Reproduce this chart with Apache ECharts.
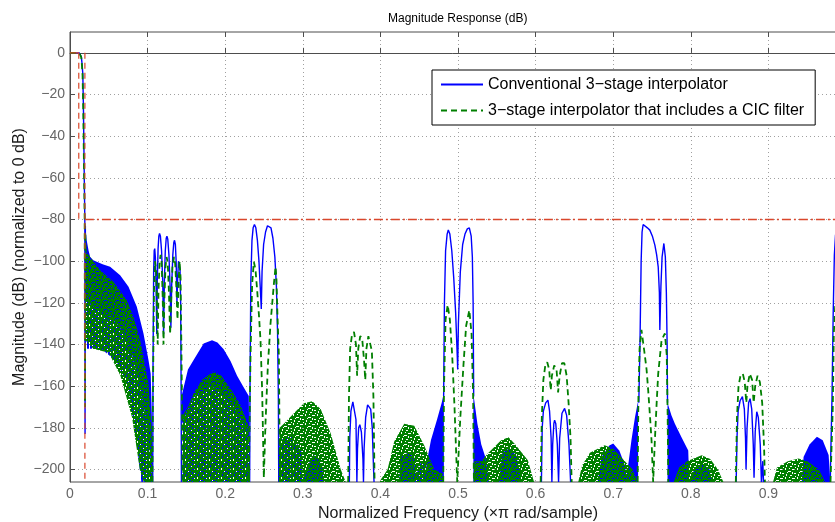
<!DOCTYPE html>
<html>
<head>
<meta charset="utf-8">
<script src="https://cdn.jsdelivr.net/npm/echarts@6/dist/echarts.min.js"></script>
<style>
  html, body { margin: 0; padding: 0; background: #fff; }
  #chart { width: 835px; height: 522px; }
</style>
</head>
<body>
<div id="chart"></div>
<script>
// Axis ranges and tick values
const X_MIN = 0, X_MAX = 1, X_STEP = 0.1;
const Y_MIN = -206, Y_MAX = 10;
const yTicks = [0, -20, -40, -60, -80, -100, -120, -140, -160, -180, -200];

const NAME_CONV = 'Conventional 3\u2212stage interpolator';
const NAME_CIC = '3\u2212stage interpolator that includes a CIC filter';

// Specification mask
const maskPassTop = [[0, 0], [0.0113, 0]];
const maskPassEdge = [[0.0113, 0], [0.0113, -80]];
const maskStopEdge = [[0.0192, 0], [0.0192, -206]];
const maskStopLevel = [[0.0192, -80], [1, -80]];

// ---- Conventional design: traced curve pieces ----
const blueTransition = [[0, 0], [0.0120, 0], [0.0135, -0.5], [0.0147, -2], [0.0157, -6], [0.0165, -10], [0.0173, -26], [0.0178, -42], [0.0186, -66], [0.0191, -80], [0.0194, -183], [0.0198, -83]];
const blueLobe1 = [[0.1066, -206], [0.1070, -150], [0.1078, -105], [0.1085, -95], [0.1092, -94], [0.1100, -98], [0.1110, -112], [0.1118, -135], [0.1125, -110], [0.1135, -94], [0.1145, -88], [0.1154, -86.7], [0.1165, -88], [0.1180, -95], [0.1195, -110], [0.1206, -135], [0.1216, -110], [0.1228, -95], [0.1240, -89], [0.1249, -88], [0.1260, -89.5], [0.1275, -97], [0.1290, -112], [0.1300, -132], [0.1310, -112], [0.1325, -97], [0.1338, -91], [0.1347, -90], [0.1358, -92], [0.1368, -100], [0.1378, -120], [0.1388, -108], [0.1398, -100], [0.1408, -99.5], [0.1418, -104], [0.1426, -120], [0.1432, -160], [0.1436, -206]];
const blueLobe2 = [[0.2315, -206], [0.2320, -160], [0.2330, -110], [0.2345, -90], [0.2360, -84], [0.2377, -82.4], [0.2395, -84], [0.2415, -90], [0.2435, -100], [0.2455, -115], [0.2465, -123], [0.2475, -105], [0.2495, -92], [0.2520, -86], [0.2545, -83], [0.2565, -82.4], [0.2590, -84], [0.2615, -89], [0.2640, -98], [0.2660, -112], [0.2675, -135], [0.2685, -165], [0.2690, -206]];
const blueLobe3 = [[0.3600, -206], [0.3605, -185], [0.3620, -172], [0.3645, -167.5], [0.3665, -168], [0.3685, -176], [0.3697, -206], [0.3705, -190], [0.3720, -180], [0.3735, -178.5], [0.3755, -182], [0.3775, -195], [0.3782, -206], [0.3790, -190], [0.3810, -175], [0.3835, -169], [0.3855, -168.3], [0.3875, -171], [0.3895, -180], [0.3912, -200], [0.3918, -206]];
const blueLobe4 = [[0.4815, -165], [0.4825, -120], [0.4840, -95], [0.4860, -87], [0.4875, -85], [0.4895, -87], [0.4920, -95], [0.4945, -108], [0.4970, -125], [0.4990, -145], [0.4996, -152], [0.5005, -130], [0.5030, -105], [0.5060, -92], [0.5090, -87], [0.5120, -84.5], [0.5146, -84], [0.5170, -88], [0.5185, -98], [0.5195, -120], [0.5202, -165]];
const blueLobe5 = [[0.6075, -206], [0.6085, -180], [0.6100, -172], [0.6130, -168], [0.6159, -166.7], [0.6180, -172], [0.6200, -185], [0.6210, -206], [0.6220, -188], [0.6235, -178], [0.6245, -176.3], [0.6260, -178], [0.6280, -188], [0.6296, -206], [0.6310, -185], [0.6340, -173], [0.6374, -170.7], [0.6400, -174], [0.6430, -188], [0.6451, -206]];
const blueLobe6 = [[0.7330, -168], [0.7345, -140], [0.7360, -100], [0.7372, -86], [0.7386, -82.4], [0.7410, -83], [0.7440, -84], [0.7472, -85.1], [0.7505, -88], [0.7537, -92.3], [0.7560, -97], [0.7580, -102.7], [0.7595, -115], [0.7601, -133], [0.7615, -112], [0.7630, -98], [0.7653, -91.5], [0.7672, -98], [0.7685, -115], [0.7695, -140], [0.7700, -168]];
const blueLobe7 = [[0.8585, -206], [0.8595, -185], [0.8610, -172], [0.8635, -167], [0.8665, -165], [0.8690, -171], [0.8705, -185], [0.8712, -200], [0.8725, -180], [0.8745, -168], [0.8764, -166], [0.8785, -171], [0.8805, -188], [0.8815, -204], [0.8830, -182], [0.8850, -172.3], [0.8870, -175], [0.8895, -188], [0.8910, -206], [0.8928, -196], [0.8937, -206]];
const blueEnd = [[0.9798, -206], [0.9800, -199], [0.9820, -165], [0.9835, -125], [0.9850, -97], [0.9865, -87.5], [0.9890, -84]];

// Conventional design: envelopes of densely rippling stopband regions
const blueDenseTop1 = [[0.0198, -83], [0.0215, -90], [0.0240, -95], [0.0260, -98], [0.0300, -99.5], [0.0345, -100.3], [0.0420, -101.5], [0.0517, -102.7], [0.0646, -106.7], [0.0754, -112.3], [0.0861, -121.9], [0.0947, -134.7], [0.1012, -147.5], [0.1040, -154], [0.1055, -175], [0.1064, -206]];
const blueDenseMid1 = [[0.0198, -118], [0.0300, -122], [0.0500, -126], [0.0650, -132], [0.0800, -145], [0.0900, -160], [0.1000, -180], [0.1064, -206]];
const blueDenseLow1 = [[0.0198, -142], [0.0400, -142], [0.0600, -148], [0.0750, -160], [0.0850, -185], [0.0920, -206], [0.1064, -206]];
const blueHumpTop2 = [[0.1440, -206], [0.1443, -164], [0.1520, -152], [0.1593, -147.4], [0.1722, -139.5], [0.1830, -138], [0.1900, -139], [0.1980, -142.3], [0.2070, -148], [0.2153, -155], [0.2230, -160], [0.2304, -164.7], [0.2315, -206]];
const blueHumpMid2 = [[0.1440, -206], [0.1443, -178], [0.1600, -165], [0.1830, -160], [0.2000, -164], [0.2150, -172], [0.2304, -185], [0.2315, -206]];
const blueSpikes3 = [[0.2680, -206], [0.2700, -186], [0.2850, -184], [0.2980, -190], [0.3000, -206]];
const blueHumpTop3 = [[0.3020, -206], [0.3036, -202], [0.3100, -195], [0.3143, -193], [0.3200, -195], [0.3250, -198.7], [0.3270, -206]];
const blueHumpTop4 = [[0.4240, -206], [0.4265, -194], [0.4350, -192], [0.4436, -194], [0.4460, -206]];
const blueSpikes4 = [[0.4450, -206], [0.4500, -197], [0.4560, -197], [0.4600, -206]];
const blueSkirt4L = [[0.4560, -206], [0.4600, -196], [0.4651, -186], [0.4730, -176], [0.4790, -168], [0.4818, -163], [0.4818, -206]];
const blueSkirt4R = [[0.5198, -206], [0.5198, -163.5], [0.5250, -178], [0.5300, -188], [0.5360, -195], [0.5400, -206]];
const blueHumpTop5 = [[0.5530, -206], [0.5570, -192], [0.5650, -190], [0.5750, -193], [0.5820, -206]];
const blueHumpTop6 = [[0.6800, -206], [0.6850, -194], [0.6950, -188.5], [0.7000, -187.5], [0.7080, -191], [0.7150, -198], [0.7180, -206]];
const blueSkirt6L = [[0.7160, -206], [0.7200, -196], [0.7235, -186], [0.7280, -175], [0.7321, -167], [0.7321, -206]];
const blueSkirt6R = [[0.7700, -206], [0.7700, -168], [0.7750, -174], [0.7795, -178], [0.7880, -184.5], [0.7967, -190.9], [0.7980, -206]];
const blueHumpTop7 = [[0.7990, -206], [0.8050, -199], [0.8150, -197], [0.8240, -200], [0.8270, -206]];
const blueHumpTop8 = [[0.9430, -206], [0.9453, -194], [0.9530, -188], [0.9625, -184.3], [0.9700, -186], [0.9776, -193], [0.9798, -206]];

// ---- Design with CIC filter: traced curve pieces ----
const greenTransition = [[0, 0], [0.0118, 0], [0.0132, -0.5], [0.0144, -2], [0.0154, -6], [0.0162, -11], [0.0170, -26], [0.0176, -43], [0.0184, -66], [0.0189, -80], [0.0193, -170], [0.0198, -86]];
const greenLobe1 = [[0.1062, -206], [0.1070, -160], [0.1082, -115], [0.1095, -100], [0.1110, -104], [0.1122, -125], [0.1130, -140], [0.1140, -115], [0.1155, -100], [0.1168, -97], [0.1180, -100], [0.1195, -118], [0.1205, -140], [0.1215, -120], [0.1230, -103], [0.1245, -98], [0.1260, -101], [0.1275, -115], [0.1290, -135], [0.1305, -118], [0.1320, -103], [0.1340, -98], [0.1355, -101], [0.1370, -112], [0.1385, -128], [0.1400, -110], [0.1412, -100], [0.1425, -108], [0.1435, -140], [0.1445, -175], [0.1450, -206]];
const greenLobe2 = [[0.2304, -206], [0.2326, -146], [0.2347, -111], [0.2369, -100.3], [0.2390, -104], [0.2412, -114], [0.2435, -126], [0.2455, -138], [0.2476, -162], [0.2498, -204], [0.2519, -178], [0.2550, -150], [0.2584, -130], [0.2627, -111], [0.2649, -102.7], [0.2660, -108], [0.2670, -122], [0.2692, -146], [0.2705, -206]];
const greenLobe3 = [[0.3585, -206], [0.3595, -165], [0.3610, -142], [0.3635, -135], [0.3660, -134], [0.3685, -140], [0.3700, -155], [0.3715, -142], [0.3740, -136], [0.3765, -137], [0.3790, -148], [0.3805, -157], [0.3820, -142], [0.3845, -136], [0.3870, -136], [0.3890, -143], [0.3910, -165], [0.3925, -206]];
const greenLobe4 = [[0.4810, -206], [0.4820, -160], [0.4840, -128], [0.4867, -121], [0.4895, -128], [0.4925, -145], [0.4955, -170], [0.4990, -206], [0.5030, -175], [0.5070, -150], [0.5105, -131], [0.5146, -123.5], [0.5175, -135], [0.5195, -165], [0.5205, -206]];
const greenLobe5 = [[0.6065, -206], [0.6080, -175], [0.6100, -157], [0.6125, -150], [0.6150, -148.5], [0.6175, -152], [0.6195, -162], [0.6210, -155], [0.6240, -150], [0.6270, -152], [0.6290, -163], [0.6310, -155], [0.6340, -149], [0.6370, -149], [0.6400, -155], [0.6425, -168], [0.6450, -185], [0.6465, -206]];
const greenLobe6 = [[0.7315, -206], [0.7325, -165], [0.7340, -142], [0.7364, -133], [0.7400, -143], [0.7430, -152], [0.7451, -162], [0.7475, -175], [0.7494, -186], [0.7515, -206], [0.7537, -186], [0.7560, -168], [0.7580, -154], [0.7623, -138], [0.7666, -134.7], [0.7690, -145], [0.7702, -175], [0.7710, -206]];
const greenLobe7 = [[0.8580, -206], [0.8595, -175], [0.8615, -160], [0.8640, -155], [0.8670, -154], [0.8695, -158], [0.8715, -168], [0.8730, -160], [0.8760, -154], [0.8790, -157], [0.8810, -168], [0.8830, -160], [0.8860, -155], [0.8890, -158], [0.8920, -168], [0.8945, -190], [0.8955, -206]];
const greenEnd = [[0.9800, -206], [0.9830, -170], [0.9843, -134.7], [0.9860, -122], [0.9890, -112]];

// Design with CIC filter: envelopes of densely rippling stopband regions
const greenDenseTop1 = [[0.0198, -86], [0.0215, -96], [0.0300, -100], [0.0388, -104.3], [0.0560, -110], [0.0732, -118.7], [0.0820, -127], [0.0904, -138], [0.1010, -158.6], [0.1050, -180], [0.1062, -206]];
const greenDenseLow1 = [[0.0198, -138], [0.0300, -142], [0.0500, -144], [0.0650, -155], [0.0800, -175], [0.0900, -200], [0.0950, -206], [0.1062, -206]];
const greenHumpTop2 = [[0.1448, -206], [0.1455, -174], [0.1520, -170], [0.1593, -163.5], [0.1700, -157], [0.1850, -153], [0.1950, -155], [0.2100, -163], [0.2196, -169], [0.2300, -179], [0.2320, -206]];
const greenHumpTop3 = [[0.2690, -206], [0.2700, -180], [0.2756, -178], [0.2885, -173], [0.3014, -168.2], [0.3122, -167.2], [0.3230, -171], [0.3359, -182.6], [0.3488, -199.9], [0.3553, -206]];
const greenHumpTop4 = [[0.3984, -206], [0.4092, -200], [0.4178, -186.5], [0.4307, -178], [0.4436, -179], [0.4565, -188.5], [0.4694, -200], [0.4802, -202], [0.4810, -206]];
const greenHumpTop5 = [[0.5200, -206], [0.5210, -196], [0.5300, -196], [0.5383, -192.3], [0.5556, -185.9], [0.5650, -184.5], [0.5727, -187.5], [0.5900, -195.5], [0.5980, -206]];
const greenHumpTop6 = [[0.6550, -206], [0.6600, -198], [0.6700, -192], [0.6890, -188.3], [0.7000, -190], [0.7150, -196], [0.7250, -200], [0.7310, -206]];
const greenHumpTop7 = [[0.7780, -206], [0.7850, -199], [0.7950, -196], [0.8140, -193.1], [0.8250, -195], [0.8350, -200], [0.8420, -206]];
const greenHumpTop8 = [[0.9060, -206], [0.9110, -199], [0.9250, -196], [0.9388, -194.7], [0.9500, -196], [0.9650, -200], [0.9730, -206]];

// ---- styling ----
const BLUE = '#0000ff';
const GREEN = '#007f00';
const RED = '#d9462b';
const FONT = 'Liberation Sans, Arial, Helvetica, sans-serif';

// Fill textures that stand in for the dense ripple of the stopband
function stripeTexture(color) {
  const c = document.createElement('canvas');
  c.width = 3; c.height = 1;
  const g = c.getContext('2d');
  g.fillStyle = color; g.fillRect(0, 0, 2, 1);
  return { image: c, repeat: 'repeat' };
}
function speckleTexture(color) {
  const c = document.createElement('canvas');
  c.width = 12; c.height = 9;
  const g = c.getContext('2d');
  g.fillStyle = color; g.fillRect(0, 0, 12, 9);
  [[0, 1, 3, 1], [5, 0, 1, 2], [8, 3, 3, 1], [2, 5, 2, 1], [6, 6, 1, 2], [10, 7, 2, 1], [3, 8, 1, 1], [9, 0, 1, 1], [0, 4, 1, 2], [7, 4, 1, 1]]
    .forEach(r => g.clearRect(r[0], r[1], r[2], r[3]));
  return { image: c, repeat: 'repeat' };
}

function band(top, low) { return { top, low: low || [] }; }

const blueSolidBands = [
  band(blueDenseTop1, blueDenseMid1), band(blueHumpTop2, blueHumpMid2), band(blueHumpTop3),
  band(blueHumpTop4), band(blueSkirt4L), band(blueSkirt4R), band(blueHumpTop5),
  band(blueHumpTop6), band(blueSkirt6L), band(blueSkirt6R), band(blueHumpTop7), band(blueHumpTop8)
];
const blueStripeBands = [
  band(blueDenseMid1, blueDenseLow1), band(blueHumpMid2), band(blueSpikes3), band(blueSpikes4)
];
const greenBands = [
  band(greenDenseTop1, greenDenseLow1), band(greenHumpTop2), band(greenHumpTop3), band(greenHumpTop4),
  band(greenHumpTop5), band(greenHumpTop6), band(greenHumpTop7), band(greenHumpTop8)
];

function bandSeries(name, bands, fill, z) {
  return {
    type: 'custom', name, coordinateSystem: 'cartesian2d', silent: true, z, clip: true,
    data: bands.map((b, i) => [b.top[0][0], b.top[0][1], i]),
    encode: { x: 0, y: 1 },
    renderItem: (params, api) => {
      const b = bands[api.value(2)];
      const pts = b.top.concat(b.low.slice().reverse()).map(p => api.coord(p));
      return { type: 'polygon', shape: { points: pts }, style: { fill: fill } };
    }
  };
}

function lineSeries(name, data, color, width, dash, z) {
  return {
    type: 'line', name, data, z, symbol: 'none', silent: true, animation: false,
    color: color,
    lineStyle: { color, width, type: dash || 'solid', cap: 'butt', opacity: 1 },
    itemStyle: { color }
  };
}

const blueSegments = [blueTransition, blueLobe1, blueLobe2, blueLobe3, blueLobe4, blueLobe5, blueLobe6, blueLobe7, blueEnd];
const greenSegments = [greenTransition, greenLobe1, greenLobe2, greenLobe3, greenLobe4, greenLobe5, greenLobe6, greenLobe7, greenEnd];

const series = [];
blueSegments.forEach(seg => series.push(lineSeries(NAME_CONV, seg, BLUE, 1.4, 'solid', 3)));
series.push(bandSeries('conv-dense', blueSolidBands, BLUE, 2));
series.push(bandSeries('conv-dense-low', blueStripeBands, stripeTexture(BLUE), 2));
series.push(bandSeries('cic-dense', greenBands, speckleTexture(GREEN), 4));
greenSegments.forEach(seg => series.push(lineSeries(NAME_CIC, seg, GREEN, 1.8, [6, 4], 5)));
series.push(lineSeries('mask-pass-top', maskPassTop, RED, 1.4, 'solid', 6));
series.push(lineSeries('mask-pass-edge', maskPassEdge, RED, 1.2, [6, 4], 6));
series.push(lineSeries('mask-stop-edge', maskStopEdge, RED, 1.2, [6, 4], 6));
series.push(lineSeries('mask-stop-level', maskStopLevel, RED, 1.5, [9, 3, 2, 3], 6));

const gridLine = { show: true, lineStyle: { color: '#a0a0a0', width: 1, type: [1, 3] } };
const fmtY = v => (v < 0 ? '\u2212' + Math.abs(v) : String(v));

const chart = echarts.init(document.getElementById('chart'), null, { renderer: 'canvas' });
chart.setOption({
  animation: false,
  backgroundColor: '#ffffff',
  title: {
    text: 'Magnitude Response (dB)', left: 383, top: 8,
    textStyle: { fontFamily: FONT, fontSize: 12, fontWeight: 'normal', color: '#000' }
  },
  grid: {
    left: 70, top: 32, width: 776, height: 450, outerBoundsMode: 'none', containLabel: false,
    show: true, borderColor: '#4d4d4d', borderWidth: 1, backgroundColor: 'transparent'
  },
  legend: {
    data: [NAME_CONV, NAME_CIC], orient: 'vertical', left: 432, top: 70,
    padding: [5, 11, 5, 8], itemGap: 7, itemWidth: 42, itemHeight: 14,
    itemStyle: { opacity: 0 },
    backgroundColor: '#ffffff', borderColor: '#000', borderWidth: 1, borderRadius: 0,
    textStyle: { fontFamily: FONT, fontSize: 16, color: '#000', lineHeight: 19 },
    selectedMode: false
  },
  xAxis: [{
    type: 'value', min: X_MIN, max: X_MAX, interval: X_STEP, position: 'bottom',
    name: 'Normalized Frequency (\u00d7\u03c0 rad/sample)', nameLocation: 'middle', nameGap: 21,
    nameTextStyle: { fontFamily: FONT, fontSize: 16, color: '#1a1a1a' },
    axisLine: { show: true, lineStyle: { color: '#4d4d4d' } },
    axisTick: { show: true, inside: true, length: 5, lineStyle: { color: '#4d4d4d' } },
    axisLabel: { fontFamily: FONT, fontSize: 14, color: '#666', margin: 5, formatter: v => (v > 0.95 ? '' : String(Math.round(v * 10) / 10)) },
    splitLine: gridLine
  }, {
    type: 'value', min: X_MIN, max: X_MAX, interval: X_STEP, position: 'top',
    axisLine: { show: false }, axisLabel: { show: false }, splitLine: { show: false },
    axisTick: { show: true, inside: true, length: 5, lineStyle: { color: '#4d4d4d' } }
  }],
  yAxis: {
    type: 'value', min: Y_MIN, max: Y_MAX,
    name: 'Magnitude (dB) (normalized to 0 dB)', nameLocation: 'middle', nameGap: 42,
    nameMoveOverlap: false,
    nameTextStyle: { fontFamily: FONT, fontSize: 16, color: '#1a1a1a' },
    axisLine: { show: true, lineStyle: { color: '#4d4d4d' } },
    axisTick: { show: true, inside: true, length: 5, customValues: yTicks, lineStyle: { color: '#4d4d4d' } },
    axisLabel: { fontFamily: FONT, fontSize: 14, color: '#666', margin: 5, customValues: yTicks, formatter: fmtY },
    splitLine: gridLine
  },
  series
});
</script>
</body>
</html>
